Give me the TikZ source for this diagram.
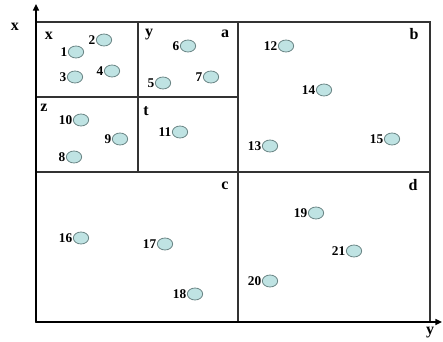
\documentclass[tikz,border=0pt]{standalone}
\usepackage{fontspec}
\setmainfont{Liberation Serif}
\usetikzlibrary{shapes.geometric,arrows.meta}
\definecolor{dotfill}{HTML}{BFE3E3}
\definecolor{dotline}{HTML}{6A8585}
\begin{document}
\begin{tikzpicture}[x=0.75pt,y=-0.75pt,
 dot/.style={ellipse,draw=dotline,fill=dotfill,line width=0.6pt,minimum width=11.5pt,minimum height=9pt,inner sep=0pt},
 num/.style={font=\bfseries\fontsize{10}{10}\selectfont,inner sep=0.3pt},
 reg/.style={font=\bfseries\fontsize{12}{12}\selectfont,inner sep=0pt},
 box/.style={draw=black!80,line width=0.8pt},
 axis/.style={line width=1.1pt,-{Triangle[length=5pt,width=4.5pt]}}]
\useasboundingbox (0,0) rectangle (443,342);
% frame and partitions
\draw[box] (36,22) rectangle (430,322);
\draw[box] (238,22) -- (238,322);
\draw[box] (36,172) -- (430,172);
\draw[box] (138,22) -- (138,172);
\draw[box] (36,97) -- (238,97);
% axes
\coordinate (O) at (36,322);
\coordinate (Xtip) at (36,4);
\coordinate (Ytip) at (442,322);
\draw[axis] (O) -- (Xtip);
\draw[axis] (O) -- (Ytip);
\node[reg] (lx) at (15,27) {x};
\node[reg] (ly) at (430,333) {y};
% region labels
\node[reg] (rx) at (49,36) {x};
\node[reg] (ry) at (149,35) {y};
\node[reg] (ra) at (225,34) {a};
\node[reg] (rb) at (414,34) {b};
\node[reg] (rz) at (44,108) {z};
\node[reg] (rt) at (146,111) {t};
\node[reg] (rc) at (225,186) {c};
\node[reg] (rd) at (413,185) {d};
% points
\node[dot,label={[num]left:1}] (n1) at (76,52) {};
\node[dot,label={[num]left:2}] (n2) at (104,40) {};
\node[dot,label={[num]left:3}] (n3) at (75,77) {};
\node[dot,label={[num]left:4}] (n4) at (112,71) {};
\node[dot,label={[num]left:5}] (n5) at (163,83) {};
\node[dot,label={[num]left:6}] (n6) at (188,46) {};
\node[dot,label={[num]left:7}] (n7) at (211,77) {};
\node[dot,label={[num]left:8}] (n8) at (74,157) {};
\node[dot,label={[num]left:9}] (n9) at (120,139) {};
\node[dot,label={[num]left:10}] (n10) at (81,120) {};
\node[dot,label={[num]left:11}] (n11) at (180,132) {};
\node[dot,label={[num]left:12}] (n12) at (286,46) {};
\node[dot,label={[num]left:13}] (n13) at (270,146) {};
\node[dot,label={[num]left:14}] (n14) at (324,90) {};
\node[dot,label={[num]left:15}] (n15) at (392,139) {};
\node[dot,label={[num]left:16}] (n16) at (81,238) {};
\node[dot,label={[num]left:17}] (n17) at (165,244) {};
\node[dot,label={[num]left:18}] (n18) at (195,294) {};
\node[dot,label={[num]left:19}] (n19) at (316,213) {};
\node[dot,label={[num]left:20}] (n20) at (270,281) {};
\node[dot,label={[num]left:21}] (n21) at (354,251) {};
\end{tikzpicture}
\end{document}
